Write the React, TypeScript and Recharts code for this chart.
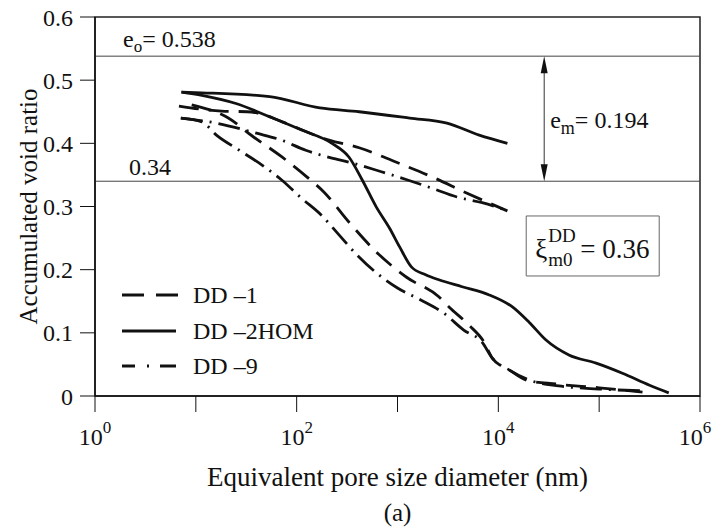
import { LineChart, Line, XAxis, YAxis, ReferenceLine, ReferenceArea, Legend, Label } from 'recharts';

const FONT = '"Liberation Serif", "Times New Roman", serif';
const INK = '#111';

// pore diameter (nm) / accumulated void ratio
const dd1InD = [9.1, 21, 36, 72, 126, 186, 331, 617, 1230, 2570, 3240, 5130, 7240, 8710, 12900, 19100, 37200, 100000, 269000];
const dd1InE = [0.461, 0.44, 0.412, 0.378, 0.347, 0.323, 0.275, 0.228, 0.188, 0.157, 0.141, 0.112, 0.085, 0.06, 0.041, 0.025, 0.019, 0.013, 0.006];
const dd1OutD = [6.8, 18, 32, 41, 72, 209, 417, 977, 2190, 4900, 12300];
const dd1OutE = [0.459, 0.451, 0.45, 0.448, 0.434, 0.405, 0.393, 0.37, 0.347, 0.321, 0.293];

const dd2InD = [7.2, 11.5, 25, 54, 112, 224, 331, 447, 617, 832, 1050, 1380, 1900, 2570, 4370, 8130, 13800, 20400, 29500, 50100, 93300, 170000, 316000, 490000];
const dd2InE = [0.481, 0.476, 0.463, 0.442, 0.421, 0.4, 0.378, 0.342, 0.299, 0.266, 0.236, 0.204, 0.192, 0.184, 0.173, 0.16, 0.141, 0.116, 0.089, 0.065, 0.052, 0.036, 0.017, 0.005];
const dd2OutD = [7.2, 11.5, 54, 170, 417, 1320, 3090, 6460, 12300];
const dd2OutE = [0.481, 0.48, 0.474, 0.456, 0.45, 0.44, 0.432, 0.413, 0.4];

const dd9InD = [7.1, 11.5, 16, 27, 45, 71, 112, 174, 263, 398, 617, 1000, 1700, 2880, 4570, 6920, 8710, 12900, 20400, 39800, 100000, 295000];
const dd9InE = [0.44, 0.434, 0.413, 0.389, 0.366, 0.342, 0.313, 0.287, 0.255, 0.223, 0.195, 0.171, 0.152, 0.131, 0.104, 0.085, 0.06, 0.041, 0.025, 0.016, 0.011, 0.008];
const dd9OutD = [7.1, 16, 40, 71, 123, 219, 355, 692, 1260, 2190, 3890, 6920, 12000];
const dd9OutE = [0.44, 0.432, 0.416, 0.405, 0.389, 0.377, 0.369, 0.355, 0.342, 0.329, 0.315, 0.306, 0.294];

const xTicks = [1, 10, 100, 1000, 10000, 100000, 1000000];
const yTicks = [0, 0.1, 0.2, 0.3, 0.4, 0.5, 0.6];
const legendNames = ['DD \u20131', 'DD \u20132HOM', 'DD \u20139'];

const DASH = '20 10';
const DASHDOT = '22 7 2 7';

const zip = (d: number[], e: number[]) => d.map((v, i) => ({ d: v, e: e[i] }));

const series = [
  { key: 'dd1-in', data: zip(dd1InD, dd1InE), dash: DASH },
  { key: 'dd1-out', data: zip(dd1OutD, dd1OutE), dash: DASH },
  { key: 'dd2-in', data: zip(dd2InD, dd2InE), dash: undefined },
  { key: 'dd2-out', data: zip(dd2OutD, dd2OutE), dash: undefined },
  { key: 'dd9-in', data: zip(dd9InD, dd9InE), dash: DASHDOT },
  { key: 'dd9-out', data: zip(dd9OutD, dd9OutE), dash: DASHDOT },
];

function XTick({ x, y, payload }: any) {
  const p = Math.round(Math.log10(payload.value));
  if (p % 2 !== 0) return <g />;
  return (
    <text x={x} y={y + 33} textAnchor="middle" fontFamily={FONT} fontSize={24} fill={INK}>
      10<tspan dy={-12} fontSize={17}>{p}</tspan>
    </text>
  );
}

function XTitle({ viewBox }: any) {
  const cx = viewBox.x + viewBox.width / 2;
  return (
    <g fontFamily={FONT} fill={INK} textAnchor="middle">
      <text x={cx} y={viewBox.y + 90} fontSize={27}>Equivalent pore size diameter (nm)</text>
      <text x={cx} y={viewBox.y + 125} fontSize={25}>(a)</text>
    </g>
  );
}

function YTitle({ viewBox }: any) {
  const cy = viewBox.y + viewBox.height / 2;
  return (
    <text x={37} y={cy} transform={`rotate(-90 37 ${cy})`} textAnchor="middle" fontFamily={FONT} fontSize={25} fill={INK}>
      Accumulated void ratio
    </text>
  );
}

function E0Label({ viewBox }: any) {
  return (
    <text x={viewBox.x + 28} y={viewBox.y - 9} fontFamily={FONT} fontSize={24} fill={INK}>
      e<tspan dy={5} fontSize={17}>o</tspan><tspan dy={-5}>= 0.538</tspan>
    </text>
  );
}

function LowLabel({ viewBox }: any) {
  return (
    <text x={viewBox.x + 34} y={viewBox.y - 6} fontFamily={FONT} fontSize={24} fill={INK}>
      0.34
    </text>
  );
}

function Arrow({ x1, y1, y2 }: any) {
  const top = Math.min(y1, y2);
  const bot = Math.max(y1, y2);
  return (
    <g>
      <line x1={x1} y1={top + 12} x2={x1} y2={bot - 12} stroke="#333" strokeWidth={1} />
      <polygon points={`${x1},${top} ${x1 - 3.5},${top + 17} ${x1 + 3.5},${top + 17}`} fill={INK} />
      <polygon points={`${x1},${bot} ${x1 - 3.5},${bot - 17} ${x1 + 3.5},${bot - 17}`} fill={INK} />
      <text x={x1 + 6} y={(top + bot) / 2 + 9} fontFamily={FONT} fontSize={24} fill={INK}>
        e<tspan dy={6} fontSize={18}>m</tspan><tspan dy={-6}>= 0.194</tspan>
      </text>
    </g>
  );
}

function XiLabel({ viewBox }: any) {
  const { x, y } = viewBox;
  return (
    <g fontFamily={FONT} fill={INK}>
      <text x={x + 9} y={y + 42} fontSize={27}>ξ</text>
      <text x={x + 22} y={y + 26} fontSize={19}>DD</text>
      <text x={x + 22} y={y + 50} fontSize={19}>m0</text>
      <text x={x + 54} y={y + 42} fontSize={27}>= 0.36</text>
    </g>
  );
}

function LegendBox() {
  const rows = [19, 55, 90];
  return (
    <svg width={240} height={110} style={{ overflow: 'visible' }}>
      <g stroke={INK} strokeWidth={3}>
        <line x1={12} y1={rows[0]} x2={34} y2={rows[0]} />
        <line x1={46} y1={rows[0]} x2={68} y2={rows[0]} />
        <line x1={12} y1={rows[1]} x2={66} y2={rows[1]} />
        <line x1={12} y1={rows[2]} x2={25} y2={rows[2]} />
        <line x1={37} y1={rows[2]} x2={39} y2={rows[2]} />
        <line x1={50} y1={rows[2]} x2={66} y2={rows[2]} />
      </g>
      {legendNames.map((n, i) => (
        <text key={n} x={83} y={rows[i] + 8} fontFamily={FONT} fontSize={24} fill={INK}>{n}</text>
      ))}
    </svg>
  );
}

export default function App() {
  return (
    <div style={{ position: 'absolute', left: 0, top: 0, background: '#fff' }}>
      <LineChart width={723} height={530} margin={{ top: 17, right: 23, left: 0, bottom: 74 }}>
        <XAxis
          dataKey="d"
          type="number"
          scale="log"
          domain={[1, 1000000]}
          ticks={xTicks}
          allowDataOverflow
          height={60}
          tickSize={16}
          tickMargin={0}
          tick={<XTick />}
          axisLine={{ stroke: INK, strokeWidth: 1.5 }}
          tickLine={{ stroke: INK, strokeWidth: 1 }}
        >
          <Label content={<XTitle />} />
        </XAxis>
        <YAxis
          type="number"
          domain={[0, 0.6]}
          ticks={yTicks}
          width={95}
          tickSize={15}
          tickMargin={7}
          tickFormatter={(v: number) => (v === 0 ? '0' : v.toFixed(1))}
          tick={{ fontFamily: FONT, fontSize: 24, fill: INK }}
          axisLine={{ stroke: INK, strokeWidth: 1.5 }}
          tickLine={{ stroke: INK, strokeWidth: 1 }}
        >
          <Label content={<YTitle />} />
        </YAxis>
        <ReferenceArea x1={1} x2={1000000} y1={0} y2={0.6} fill="none" stroke="#222" strokeWidth={1.5} />
        <ReferenceLine y={0.538} stroke="#444" strokeWidth={1} label={<E0Label />} />
        <ReferenceLine y={0.34} stroke="#444" strokeWidth={1} label={<LowLabel />} />
        <ReferenceLine segment={[{ x: 28500, y: 0.538 }, { x: 28500, y: 0.34 }]} shape={<Arrow />} />
        <ReferenceArea x1={18900} x2={394000} y1={0.19} y2={0.285} fill="#fff" fillOpacity={1} stroke="#666" strokeWidth={1} label={<XiLabel />} />
        {series.map((s) => (
          <Line
            key={s.key}
            data={s.data}
            dataKey="e"
            type="monotone"
            stroke={INK}
            strokeWidth={2.8}
            strokeDasharray={s.dash}
            dot={false}
            activeDot={false}
            legendType="none"
            isAnimationActive={false}
          />
        ))}
        <Legend
          layout="vertical"
          align="center"
          verticalAlign="middle"
          content={<LegendBox />}
          wrapperStyle={{ left: 110, top: 276, width: 240, height: 110 }}
        />
      </LineChart>
    </div>
  );
}
